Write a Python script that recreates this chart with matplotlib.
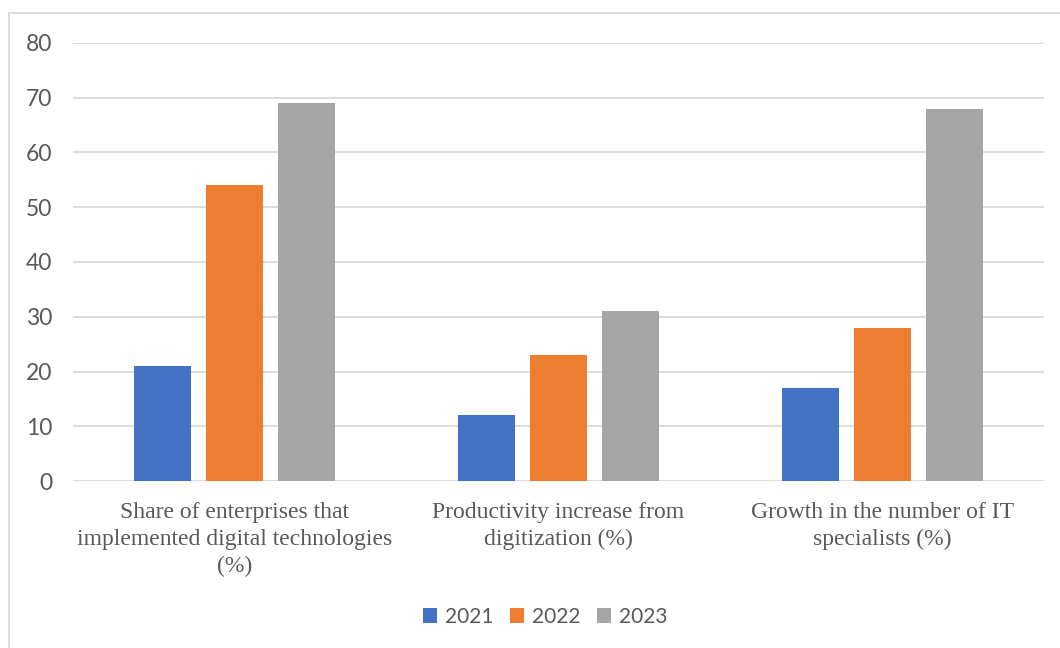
import matplotlib
matplotlib.use("Agg")
import matplotlib.pyplot as plt
import numpy as np
from matplotlib.patches import Rectangle

categories = ["Share of enterprises that\nimplemented digital technologies\n(%)",
              "Productivity increase from\ndigitization (%)",
              "Growth in the number of IT\nspecialists (%)"]
series_names = ["2021", "2022", "2023"]
v2021 = [21, 12, 17]
v2022 = [54, 23, 28]
v2023 = [69, 31, 68]
colors = ["#4472C4", "#ED7D31", "#A5A5A5"]
yticks = [0, 10, 20, 30, 40, 50, 60, 70, 80]

fig = plt.figure(figsize=(10.6, 6.48), dpi=100)
ax = fig.add_axes([73/1060, 1-481/648, (1044-73)/1060, (481-43)/648])

x = np.arange(len(categories))
bw = 0.176
step = 0.222
for i, (vals, name, c) in enumerate(zip([v2021, v2022, v2023], series_names, colors)):
    ax.bar(x + (i-1)*step, vals, width=bw, color=c, label=name, zorder=3)

ax.set_xlim(-0.5, 2.5)
ax.set_ylim(0, 80)
ax.set_yticks(yticks)
ax.set_yticklabels([str(t) for t in yticks], fontfamily="Lato", fontsize=16.5, color="#595959")
ax.set_xticks(x)
ax.set_xticklabels(categories, fontfamily="Liberation Serif", fontsize=17, color="#595959", linespacing=1.38)
ax.tick_params(axis="y", length=0, pad=15)
ax.tick_params(axis="x", length=0, pad=15)
ax.grid(axis="y", color="#D9D9D9", lw=1.3, zorder=0)
ax.set_axisbelow(True)
for s in ax.spines.values():
    s.set_visible(False)

leg = fig.legend(loc="center", bbox_to_anchor=(545/1060, 1-617/648), ncol=3, frameon=False,
                 prop={"family": "Lato", "size": 15}, handlelength=0.7, handleheight=0.7,
                 handletextpad=0.35, columnspacing=0.8)
for t in leg.get_texts():
    t.set_color("#595959")

fig.patches.append(Rectangle((9/1060, -0.05), 1.1, 1-13/648+0.05, transform=fig.transFigure,
                             fill=False, edgecolor="#D9D9D9", lw=1.3))

fig.savefig("out.png", dpi=100)
